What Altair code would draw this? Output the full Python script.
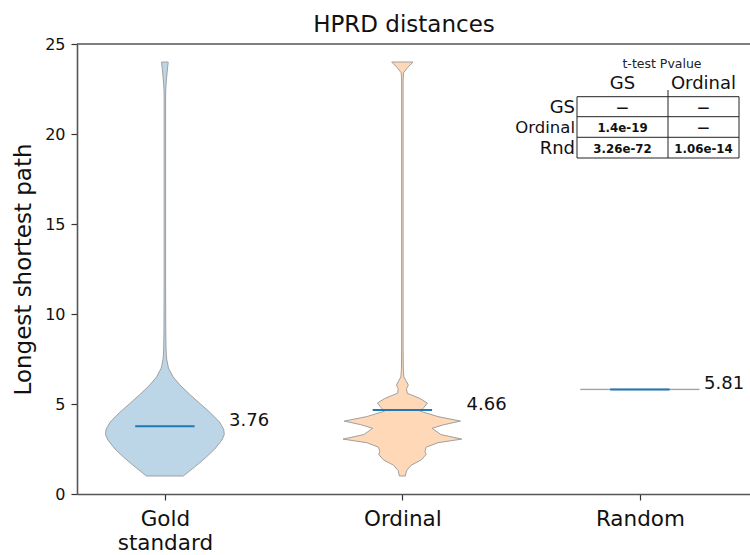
import altair as alt
import pandas as pd

# ---------------- data ----------------
chart_title = "HPRD distances"
y_title = "Longest shortest path"
groups = ["Gold standard", "Ordinal", "Random"]
positions = [1, 2, 3]
tick_lines = [["Gold", "standard"], ["Ordinal"], ["Random"]]
means = [3.76, 4.66, 5.81]
mean_text = ["3.76", "4.66", "5.81"]

# violin outlines: value -> relative half-width (1 = widest)
gold_vals = [1.0, 1.5, 2.0, 2.5, 3.0, 3.3, 3.6, 4.0, 4.5, 5.0, 5.5, 6.0, 6.5,
             7.0, 7.5, 8.0, 9.0, 12.0, 16.0, 20.0, 22.0, 22.5, 23.0, 23.5, 24.0]
gold_dens = [0.31, 0.5, 0.68, 0.84, 0.96, 1.0, 0.99, 0.92, 0.77, 0.6, 0.43, 0.27, 0.14,
             0.06, 0.03, 0.02, 0.015, 0.012, 0.012, 0.012, 0.012, 0.015, 0.025, 0.04, 0.056]

ord_vals = [1.0, 1.3, 1.6, 1.9, 2.2, 2.35, 2.6, 2.85, 3.05, 3.3, 3.65, 3.85, 4.05,
            4.3, 4.6, 4.8, 5.05, 5.3, 5.6, 5.85, 6.05, 6.3, 6.5, 7.0, 8.0, 12.0,
            16.0, 20.0, 23.0, 23.4, 23.7, 24.0]
ord_dens = [0.05, 0.07, 0.15, 0.32, 0.4, 0.38, 0.4, 0.6, 1.0, 0.65, 0.5, 0.7, 0.98,
            0.6, 0.3, 0.36, 0.42, 0.3, 0.08, 0.07, 0.1, 0.06, 0.025, 0.015, 0.012, 0.012,
            0.012, 0.012, 0.012, 0.02, 0.09, 0.18]

rnd_vals = [5.80, 5.82]
rnd_dens = [1.0, 1.0]

table_title = "t-test Pvalue"
table_cols = ["GS", "Ordinal"]
table_rows = ["GS", "Ordinal", "Rnd"]
table_cells = [["—", "—"], ["1.4e-19", "—"], ["3.26e-72", "1.06e-14"]]

# ---------------- frames ----------------
rows = []
for g, p, vals, dens in zip(groups, positions,
                            [gold_vals, ord_vals, rnd_vals],
                            [gold_dens, ord_dens, rnd_dens]):
    for v, d in zip(vals, dens):
        rows.append({"group": g, "pos": p, "value": v, "dens": d})
vdf = pd.DataFrame(rows)
mdf = pd.DataFrame({"group": groups, "pos": positions, "mean": means, "label": mean_text})

FONT = "DejaVu Sans"
LEFT, TOP = 77, 44
W, H = 673, 450
PX_PER_UNIT = 237.5
xscale = alt.Scale(domain=[0.63, 0.63 + W / PX_PER_UNIT], nice=False, zero=False)
yscale = alt.Scale(domain=[0, 25], nice=False, zero=False)
SPINE = "#555"

label_expr = ""
for p, lines in zip(positions, tick_lines):
    arr = "[" + ",".join("'" + s + "'" for s in lines) + "]"
    label_expr += f"datum.value == {p} ? {arr} : "
label_expr += "''"

xaxis = alt.Axis(values=positions, labelExpr=label_expr, title=None, grid=False,
                 domain=True, domainColor=SPINE, domainWidth=1.6,
                 tickSize=6, tickColor="#333", tickWidth=1.2,
                 labelFontSize=21.5, labelColor="#111", labelPadding=8,
                 labelLineHeight=24, labelBaseline="top", labelFont=FONT)
yaxis = alt.Axis(values=[0, 5, 10, 15, 20, 25], title=y_title, grid=False,
                 domain=True, domainColor=SPINE, domainWidth=1.6,
                 tickSize=6, tickColor="#333", tickWidth=1.2,
                 labelFontSize=16, labelColor="#111", labelPadding=6, labelFont=FONT,
                 titleFontSize=23, titleFontWeight="normal", titleColor="#111",
                 titlePadding=9, titleFont=FONT)

violins = alt.Chart(vdf).transform_calculate(
    xa="datum.pos - 0.25 * datum.dens", xb="datum.pos + 0.25 * datum.dens"
).mark_area(orient="horizontal", stroke="#a0a0a0", strokeWidth=1, opacity=1).encode(
    y=alt.Y("value:Q", scale=yscale, axis=yaxis),
    x=alt.X("xa:Q", scale=xscale, axis=xaxis, stack=None),
    x2="xb:Q",
    fill=alt.Fill("group:N", scale=alt.Scale(domain=groups, range=["#bcd6e8", "#ffd9b7", "#bcd6e8"]),
                  legend=None),
    detail="group:N",
)

mean_rules = alt.Chart(mdf).transform_calculate(
    xa="datum.pos - 0.125", xb="datum.pos + 0.125"
).mark_rule(color="#1f77b4", strokeWidth=2).encode(
    x="xa:Q", x2="xb:Q", y="mean:Q"
)

mean_labels = alt.Chart(mdf).transform_calculate(
    tx="datum.pos + 0.27"
).mark_text(align="left", baseline="alphabetic", fontSize=18, color="#111", font=FONT).encode(
    x="tx:Q", y="mean:Q", text="label:N"
)

one = pd.DataFrame({"k": [0]})
top_spine = alt.Chart(one).mark_rule(color=SPINE, strokeWidth=1.6).encode(
    x=alt.value(0), x2=alt.value(W), y=alt.value(0))

title_mark = alt.Chart(one).mark_text(text=chart_title, fontSize=23, color="#111", font=FONT,
                                      align="center", baseline="alphabetic").encode(
    x=alt.value(404 - LEFT), y=alt.value(-12))

# ---------------- table (pixel layout inside plot area) ----------------
t_left, t_div, t_right = 500, 591, 662
t_top, t_r1, t_r2, t_bot = 52.7, 72.7, 93.3, 114
t_div_top = 46
layers_tbl = []
for yy in [t_top, t_r1, t_r2, t_bot]:
    layers_tbl.append(alt.Chart(one).mark_rule(color="#222", strokeWidth=1).encode(
        x=alt.value(t_left), x2=alt.value(t_right), y=alt.value(yy)))
for xx, y0 in [(t_left, t_top), (t_div, t_div_top), (t_right, t_top)]:
    layers_tbl.append(alt.Chart(one).mark_rule(color="#222", strokeWidth=1).encode(
        x=alt.value(xx), y=alt.value(y0), y2=alt.value(t_bot)))

col_cx = [(t_left + t_div) / 2, (t_div + t_right) / 2]
row_cy = [(t_top + t_r1) / 2, (t_r1 + t_r2) / 2, (t_r2 + t_bot) / 2]

layers_tbl.append(alt.Chart(one).mark_text(text=table_title, fontSize=12.5, color="#222",
                                           font=FONT, align="center", baseline="middle").encode(
    x=alt.value(585), y=alt.value(20)))
for cx, lab in zip(col_cx, table_cols):
    layers_tbl.append(alt.Chart(one).mark_text(text=lab, fontSize=18, color="#111", font=FONT,
                                               align="center", baseline="middle").encode(
        x=alt.value(cx), y=alt.value(40)))
for cy, lab in zip(row_cy, table_rows):
    fs = 16.5 if lab == "Ordinal" else 18
    layers_tbl.append(alt.Chart(one).mark_text(text=lab, fontSize=fs, color="#111", font=FONT,
                                               align="right", baseline="middle").encode(
        x=alt.value(t_left - 2), y=alt.value(cy + 1)))
for r, cy in enumerate(row_cy):
    for c, cx in enumerate(col_cx):
        layers_tbl.append(alt.Chart(one).mark_text(text=table_cells[r][c], fontSize=11.8,
                                                   fontWeight="bold", color="#111", font=FONT,
                                                   align="center", baseline="middle").encode(
            x=alt.value(cx), y=alt.value(cy + 1)))

chart = alt.layer(violins, mean_rules, mean_labels, top_spine, title_mark, *layers_tbl).properties(
    width=W, height=H,
    padding={"left": LEFT, "top": TOP, "right": 0, "bottom": 555 - TOP - H},
    autosize=alt.AutoSizeParams(type="none"),
).configure(font=FONT).configure_view(stroke=None)

chart.save("out.html", embed_options={"renderer": "svg", "actions": False})
